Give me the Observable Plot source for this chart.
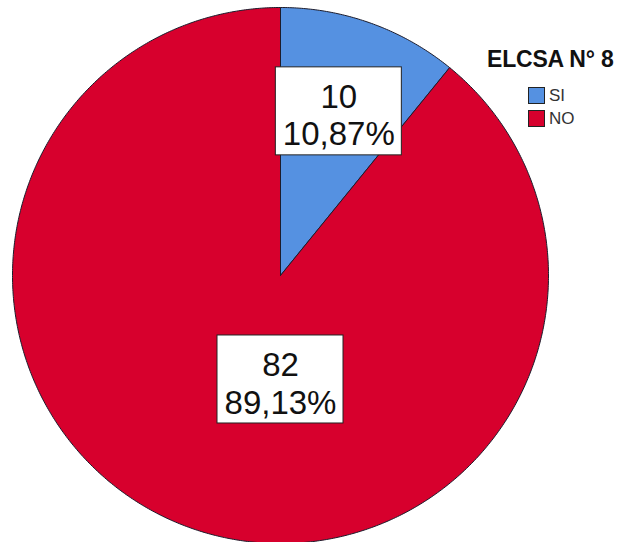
<!DOCTYPE html>
<html><head><meta charset="utf-8">
<script src="https://cdn.jsdelivr.net/npm/d3@7"></script>
<script src="https://cdn.jsdelivr.net/npm/@observablehq/plot@0.6"></script>
<style>
body{margin:0;background:#fff;}
#wrap{position:relative;width:625px;height:542px;overflow:hidden;}
#legend{position:absolute;left:487px;top:46px;font-family:"Liberation Sans",Arial,sans-serif;color:#111;}
#legend .title{font-weight:bold;font-size:23px;letter-spacing:-0.2px;white-space:nowrap;}
#legend .item{position:absolute;left:41px;display:flex;align-items:center;height:17px;white-space:nowrap;}
#legend .sw{width:15px;height:15px;border:1px solid #222;margin-right:4px;}
#legend .lab{font-size:17px;color:#333;}
</style></head><body><div id="wrap"><div id="chart"></div><div id="legend"></div></div>
<script>
const categories = ["SI", "NO"];
const counts = [10, 82];
const percentLabels = ["10,87%", "89,13%"];
const legendTitle = "ELCSA N° 8";
const colors = ["#5591e1", "#d7002d"];

const pie = d3.pie().sort(null).value(d => d)(counts);

// slice outlines computed from the pie angles
const pts = [];
pie.forEach((s, i) => {
  const n = Math.max(2, Math.ceil((s.endAngle - s.startAngle) / (Math.PI / 360)));
  pts.push({cat: categories[i], x: 0, y: 0});
  for (let k = 0; k <= n; k++) {
    const a = s.startAngle + (s.endAngle - s.startAngle) * k / n;
    pts.push({cat: categories[i], x: Math.sin(a), y: Math.cos(a)});
  }
  pts.push({cat: categories[i], x: 0, y: 0});
});

// label placement (SPSS-like)
const labels = pie.map((s, i) => {
  const mid = (s.startAngle + s.endAngle) / 2;
  const a = i === 0 ? mid : Math.PI;
  const r = i === 0 ? 0.65 : 0.388;
  return {cat: categories[i], x: r * Math.sin(a), y: r * Math.cos(a),
          text: `${counts[i]}\n${percentLabels[i]}`};
});
const R = 268;
const hw = 63 / R, hh = 44 / R;

const chart = Plot.plot({
  width: 625, height: 542, margin: 0,
  x: {domain: [-1, 1], range: [12, 548], axis: null},
  y: {domain: [-1, 1], range: [543, 7], axis: null},
  color: {domain: categories, range: colors},
  style: {background: "#fff"},
  marks: [
    Plot.line(pts, {x: "x", y: "y", z: "cat", fill: "cat", stroke: "#1c1c2c", strokeWidth: 1, strokeLinejoin: "round"}),
    Plot.rect(labels, {x1: d => d.x - hw, x2: d => d.x + hw, y1: d => d.y - hh, y2: d => d.y + hh, fill: "#fff", stroke: "#222", strokeWidth: 1}),
    Plot.text(labels, {x: "x", y: "y", text: "text", fontSize: 33, lineHeight: 1.15, dy: 3, fill: "#111",
      fontFamily: "Liberation Sans, Arial, sans-serif"})
  ]
});
document.getElementById("chart").appendChild(chart);

const leg = document.getElementById("legend");
const t = document.createElement("div");
t.className = "title"; t.textContent = legendTitle; leg.appendChild(t);
categories.forEach((c, i) => {
  const it = document.createElement("div");
  it.className = "item";
  it.style.top = (41 + i * 23) + "px";
  const sw = document.createElement("div"); sw.className = "sw"; sw.style.background = colors[i];
  const lb = document.createElement("span"); lb.className = "lab"; lb.textContent = c;
  it.appendChild(sw); it.appendChild(lb); leg.appendChild(it);
});
</script></body></html>
